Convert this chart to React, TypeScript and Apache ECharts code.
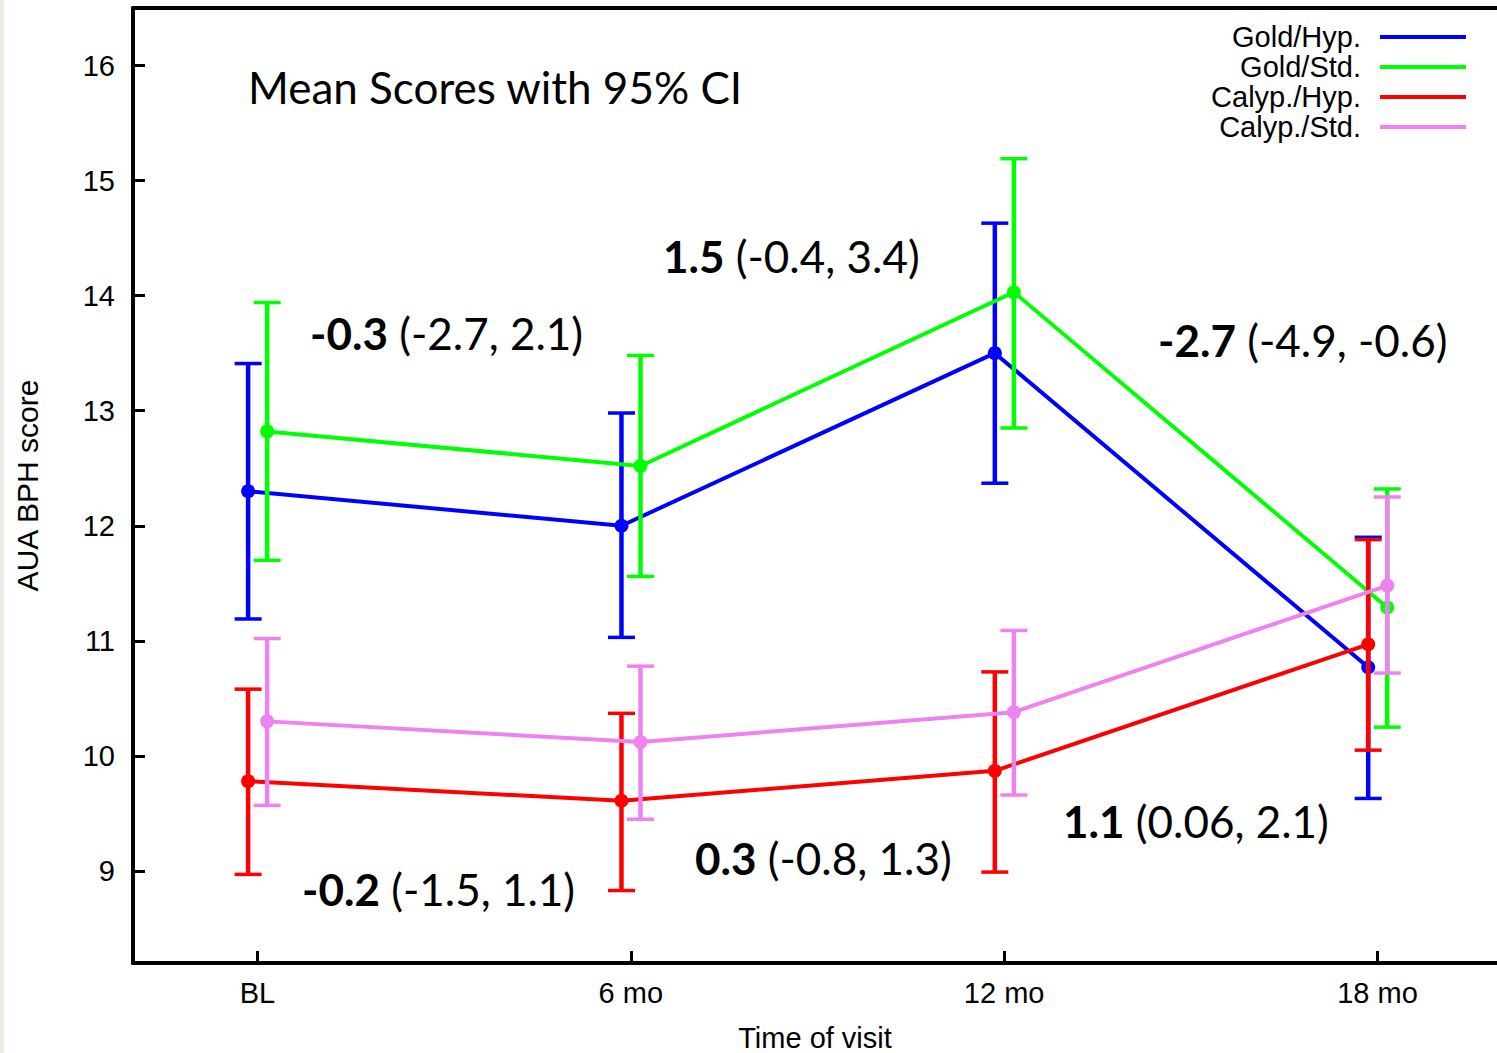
import React, { useEffect, useRef } from "react";
import * as echarts from "echarts";

const categories = ["BL", "6 mo", "12 mo", "18 mo"];
const seriesNames = ["Gold/Hyp.", "Gold/Std.", "Calyp./Hyp.", "Calyp./Std."];
const seriesColors = ["#0000ff", "#00ff00", "#ff0000", "#ee82ee"];

const goldHypMean = [12.3, 12.0, 13.5, 10.77];
const goldHypLow = [11.19, 11.03, 12.37, 9.63];
const goldHypHigh = [13.41, 12.98, 14.63, 11.9];

const goldStdMean = [12.82, 12.52, 14.03, 11.29];
const goldStdLow = [11.7, 11.56, 12.85, 10.25];
const goldStdHigh = [13.94, 13.48, 15.19, 12.32];

const calHypMean = [9.78, 9.61, 9.87, 10.97];
const calHypLow = [8.97, 8.83, 8.99, 10.05];
const calHypHigh = [10.58, 10.37, 10.73, 11.88];

const calStdMean = [10.3, 10.12, 10.38, 11.48];
const calStdLow = [9.57, 9.45, 9.66, 10.72];
const calStdHigh = [11.02, 10.78, 11.09, 12.25];

const yTicks = [9, 10, 11, 12, 13, 14, 15, 16];

const titleText = "Mean Scores with 95% CI";
const diffBold = ["-0.3", "1.5", "-2.7", "-0.2", "0.3", "1.1"];
const diffCI = ["(-2.7, 2.1)", "(-0.4, 3.4)", "(-4.9, -0.6)", "(-1.5, 1.1)", "(-0.8, 1.3)", "(0.06, 2.1)"];

// layout (pixel positions of annotation text, left x / middle y)
const annoPos = [
  [310, 333],
  [663, 256],
  [1158, 340],
  [302, 889],
  [695, 858],
  [1063, 821],
];

const means = [goldHypMean, goldStdMean, calHypMean, calStdMean];
const lows = [goldHypLow, goldStdLow, calHypLow, calStdLow];
const highs = [goldHypHigh, goldStdHigh, calHypHigh, calStdHigh];
const xOffsets = [-0.025, 0.026, -0.025, 0.026];

const AXIS_FONT = "'Liberation Sans', Arial, sans-serif";
const ANNO_FONT = "Lato, 'Open Sans', sans-serif";
const ANNO_SIZE = 44;

export default function App() {
  const ref = useRef<HTMLDivElement>(null);
  useEffect(() => {
    if (!ref.current) return;
    const chart = echarts.init(ref.current, undefined, { renderer: "svg" });

    const series: any[] = [];
    seriesNames.forEach((name, i) => {
      const color = seriesColors[i];
      series.push({
        name,
        type: "custom",
        xAxisIndex: 0,
        yAxisIndex: 0,
        z: 2 + i,
        data: categories.map((_, k) => [k + xOffsets[i], lows[i][k], highs[i][k]]),
        encode: { x: 0, y: [1, 2] },
        renderItem: (params: any, api: any) => {
          const x = api.value(0);
          const pHi = api.coord([x, api.value(2)]);
          const pLo = api.coord([x, api.value(1)]);
          const hw = 13.5;
          const vStyle = { stroke: color, lineWidth: 4.5 };
          const cStyle = { stroke: color, lineWidth: 3.5 };
          return {
            type: "group",
            children: [
              { type: "line", shape: { x1: pHi[0], y1: pHi[1], x2: pLo[0], y2: pLo[1] }, style: vStyle },
              { type: "line", shape: { x1: pHi[0] - hw, y1: pHi[1], x2: pHi[0] + hw, y2: pHi[1] }, style: cStyle },
              { type: "line", shape: { x1: pLo[0] - hw, y1: pLo[1], x2: pLo[0] + hw, y2: pLo[1] }, style: cStyle },
            ],
          };
        },
      });
      series.push({
        name,
        type: "line",
        xAxisIndex: 0,
        yAxisIndex: 0,
        z: 2 + i,
        data: categories.map((_, k) => [k + xOffsets[i], means[i][k]]),
        symbol: "circle",
        symbolSize: 14,
        showSymbol: true,
        itemStyle: { color },
        lineStyle: { color, width: 4 },
        emphasis: { disabled: true },
      });
    });

    const graphics: any[] = [
      { type: "rect", shape: { x: 0, y: 0, width: 4, height: 1053 }, style: { fill: "#eeebe2" }, silent: true },
      {
        type: "text",
        x: 248,
        y: 87,
        style: {
          text: titleText,
          fontFamily: ANNO_FONT,
          fontSize: ANNO_SIZE,
          fill: "#000",
          align: "left",
          verticalAlign: "middle",
        },
      },
    ];
    diffBold.forEach((b, i) => {
      graphics.push({
        type: "text",
        x: annoPos[i][0],
        y: annoPos[i][1],
        style: {
          text: `{b|${b}} {n|${diffCI[i]}}`,
          fontFamily: ANNO_FONT,
          fontSize: ANNO_SIZE,
          fill: "#000",
          align: "left",
          verticalAlign: "middle",
          rich: {
            b: { fontFamily: ANNO_FONT, fontSize: ANNO_SIZE, fontWeight: "bold", fill: "#000" },
            n: { fontFamily: ANNO_FONT, fontSize: ANNO_SIZE, fill: "#000" },
          },
        },
      });
    });

    const option: any = {
      animation: false,
      backgroundColor: "#ffffff",
      grid: { left: 133, right: 0, top: 8, bottom: 90, containLabel: false, outerBoundsMode: "none" },
      legend: {
        orient: "vertical",
        right: 26,
        top: 17,
        align: "right",
        itemWidth: 86,
        itemHeight: 4,
        itemGap: 0,
        icon: "rect",
        selectedMode: false,
        data: seriesNames.map((n, i) => ({ name: n, itemStyle: { color: seriesColors[i] } })),
        textStyle: {
          fontFamily: AXIS_FONT,
          fontSize: 29,
          lineHeight: 30,
          color: "#000",
          padding: [0, 14, 0, 0],
        },
      },
      xAxis: [
        {
          type: "value",
          min: -1 / 3,
          max: 3.32,
          position: "bottom",
          name: "Time of visit",
          nameLocation: "middle",
          nameGap: 60,
          nameTextStyle: { fontFamily: AXIS_FONT, fontSize: 29, color: "#000" },
          axisLine: { show: true, onZero: false, lineStyle: { color: "#000", width: 4 } },
          axisTick: { show: true, inside: true, length: 12, lineStyle: { color: "#000", width: 3 }, customValues: [0, 1, 2, 3] },
          axisLabel: {
            customValues: [0, 1, 2, 3],
            formatter: (v: number) => categories[Math.round(v)] ?? "",
            fontFamily: AXIS_FONT,
            fontSize: 29,
            color: "#000",
            margin: 15,
          },
          splitLine: { show: false },
        },
        {
          type: "value",
          min: -1 / 3,
          max: 3.32,
          position: "top",
          axisLine: { show: true, onZero: false, lineStyle: { color: "#000", width: 4 } },
          axisTick: { show: false },
          axisLabel: { show: false },
          splitLine: { show: false },
        },
      ],
      yAxis: {
        type: "value",
        min: 8.2,
        max: 16.5,
        name: "AUA BPH score",
        nameLocation: "middle",
        nameRotate: 90,
        nameGap: 91,
        nameTextStyle: { fontFamily: AXIS_FONT, fontSize: 30, color: "#000" },
        axisLine: { show: true, onZero: false, lineStyle: { color: "#000", width: 4 } },
        axisTick: { show: true, inside: true, length: 12, lineStyle: { color: "#000", width: 3 }, customValues: yTicks },
        axisLabel: {
          customValues: yTicks,
          fontFamily: AXIS_FONT,
          fontSize: 29,
          color: "#000",
          margin: 18,
        },
        splitLine: { show: false },
      },
      graphic: graphics,
      series,
    };
    chart.setOption(option);
    return () => chart.dispose();
  }, []);

  return (
    <div
      ref={ref}
      style={{ position: "absolute", left: 0, top: 0, width: 1497, height: 1053, background: "#fff" }}
    />
  );
}
